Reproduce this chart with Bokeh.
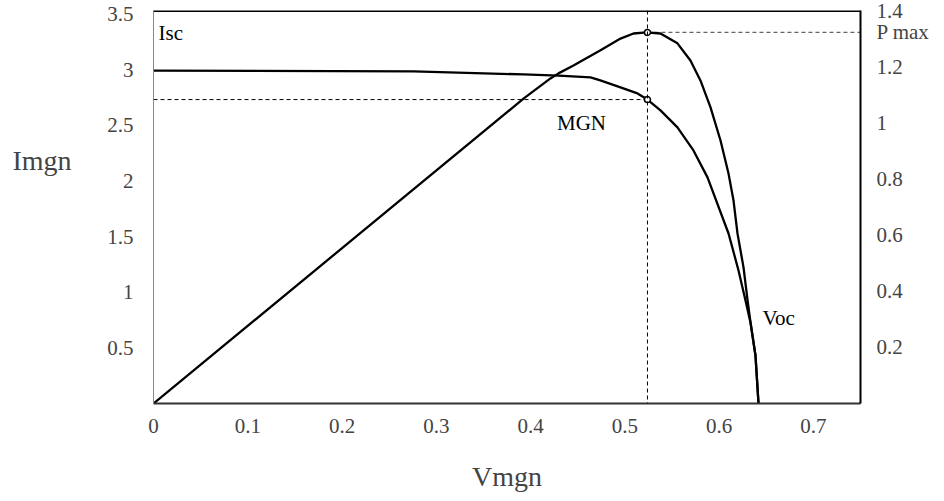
from bokeh.plotting import figure
from bokeh.models import Range1d, LinearAxis, FixedTicker, Span, Label
from bokeh.embed import file_html
from bokeh.resources import INLINE

# ---- data ----
v_current = [0.0, 0.276, 0.3925, 0.4296, 0.4636, 0.474, 0.4954, 0.5134, 0.524,
             0.5378, 0.5558, 0.5728, 0.5877, 0.61, 0.6206, 0.628, 0.6333,
             0.6386, 0.6418]
i_current = [2.99, 2.983, 2.956, 2.945, 2.929, 2.902, 2.839, 2.785, 2.73,
             2.633, 2.48, 2.273, 2.031, 1.527, 1.195, 0.926, 0.728,
             0.431, 0.0]

v_power = [0.0, 0.3925, 0.4211, 0.4296, 0.4455, 0.4742, 0.4954, 0.5092, 0.523,
           0.5378, 0.5558, 0.5696, 0.5802, 0.5909, 0.6015, 0.61, 0.6153, 0.6195,
           0.6259, 0.6301, 0.6333, 0.6386, 0.6418]
p_power = [0.0, 1.086, 1.158, 1.176, 1.204, 1.258, 1.300, 1.318, 1.322,
           1.318, 1.283, 1.222, 1.151, 1.055, 0.937, 0.819, 0.723, 0.606,
           0.485, 0.370, 0.289, 0.171, 0.0]

x_ticks = [0, 0.1, 0.2, 0.3, 0.4, 0.5, 0.6, 0.7]
i_ticks = [0.5, 1, 1.5, 2, 2.5, 3, 3.5]
p_ticks = [0.2, 0.4, 0.6, 0.8, 1, 1.2, 1.4]

v_mp = 0.524
i_mp = 2.73
p_max = 1.322

X_MAX = 0.75
I_MAX = 3.53
P_MAX_AXIS = 1.4
I_TITLE_LEVEL = 2.18   # height at which the "Imgn" title sits

FONT = "Liberation Serif"

p = figure(width=944, height=501, output_backend="svg", toolbar_location=None,
           x_range=Range1d(0, X_MAX), y_range=Range1d(0, I_MAX),
           min_border_left=153, min_border_right=84, min_border_top=10,
           min_border_bottom=98, background_fill_color="white",
           border_fill_color="white")
p.extra_y_ranges = {"p": Range1d(0, P_MAX_AXIS)}
p.outline_line_color = None
p.xgrid.visible = False
p.ygrid.visible = False


def plain(ax, standoff):
    ax.major_label_text_font = FONT
    ax.major_label_text_font_size = "21px"
    ax.major_label_standoff = standoff
    ax.major_tick_line_color = None
    ax.minor_tick_line_color = None
    ax.major_tick_out = 0
    ax.major_tick_in = 0
    ax.minor_tick_out = 0
    ax.minor_tick_in = 0


# x axis
xa = p.xaxis[0]
xa.ticker = FixedTicker(ticks=x_ticks)
plain(xa, 15)
xa.axis_label = "Vmgn"
xa.axis_label_text_font = FONT
xa.axis_label_text_font_size = "28px"
xa.axis_label_text_font_style = "normal"
xa.axis_label_standoff = 25
xa.axis_line_color = "#333333"
xa.axis_line_width = 2

# left axis
ya = p.yaxis[0]
ya.ticker = FixedTicker(ticks=i_ticks)
plain(ya, 20)
ya.axis_line_color = "#888888"
ya.axis_line_width = 1

# left title "Imgn", horizontal, set at its height beside the axis
ta = LinearAxis(ticker=FixedTicker(ticks=[I_TITLE_LEVEL]),
                major_label_overrides={I_TITLE_LEVEL: "Imgn"})
plain(ta, 33)
ta.major_label_text_font_size = "28px"
ta.axis_line_color = None
p.add_layout(ta, "left")

# right axis, with the "P max" marker label
ra = LinearAxis(y_range_name="p", ticker=FixedTicker(ticks=p_ticks + [p_max]),
                major_label_overrides={p_max: "P max"})
plain(ra, 16)
ra.axis_line_color = "black"
ra.axis_line_width = 2
p.add_layout(ra, "right")

# top border
p.add_layout(Span(location=I_MAX, dimension="width", line_color="black", line_width=3))

# reference dashed lines
p.line([0, v_mp], [i_mp, i_mp], line_color="black", line_width=1, line_dash="4 3")
p.add_layout(Span(location=v_mp, dimension="height", line_color="black",
                  line_width=1, line_dash="4 3"))
p.line([v_mp, X_MAX], [p_max, p_max], y_range_name="p", line_color="#666666",
       line_width=1.2, line_dash="4 3")

# curves
p.line(v_current, i_current, line_color="black", line_width=2.3, line_join="round")
p.line(v_power, p_power, y_range_name="p", line_color="black", line_width=2.3,
       line_join="round")

# markers
p.scatter([v_mp], [i_mp], size=6, fill_color="white", line_color="black", line_width=1.5)
p.scatter([v_mp], [p_max], y_range_name="p", size=6, fill_color="white",
          line_color="black", line_width=1.5)


def lab(text, x, y, align="left", x_offset=0):
    return Label(x=x, y=y, text=text, text_align=align, text_baseline="middle",
                 text_font=FONT, text_font_size="21px", text_color="black",
                 x_offset=x_offset)


p.add_layout(lab("Isc", 0, 3.33, x_offset=5))
p.add_layout(lab("MGN", 0.454, 2.516, align="center"))
p.add_layout(lab("Voc", 0.646, 0.764))

open("out.html", "w").write(file_html(p, INLINE))
